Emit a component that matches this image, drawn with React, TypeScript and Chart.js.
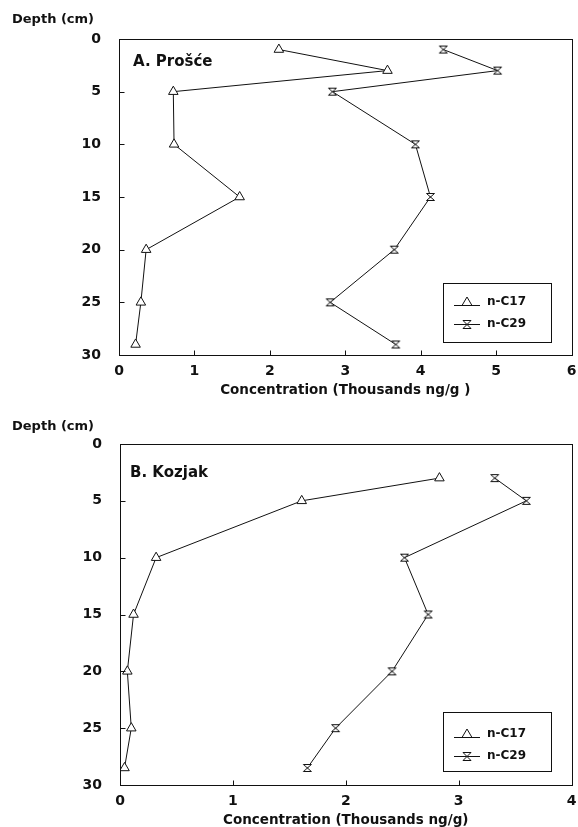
import React, { useEffect, useRef } from "react";
import { Chart, registerables } from "chart.js";

Chart.register(...registerables);

// ---------------- data ----------------
const seriesNames = ["n-C17", "n-C29"];
const depthTicks = [0, 5, 10, 15, 20, 25, 30];
const concTicksA = [0, 1, 2, 3, 4, 5, 6];
const concTicksB = [0, 1, 2, 3, 4];

// Panel A (Prošće): depth (cm) and concentration (thousands ng/g)
const depthA = [1, 3, 5, 10, 15, 20, 25, 29];
const c17A = [2.12, 3.56, 0.72, 0.73, 1.6, 0.36, 0.29, 0.22];
const c29A = [4.3, 5.02, 2.83, 3.93, 4.13, 3.65, 2.8, 3.67];

// Panel B (Kozjak)
const depthB = [3, 5, 10, 15, 20, 25, 28.5];
const c17B = [2.83, 1.61, 0.32, 0.12, 0.065, 0.1, 0.04];
const c29B = [3.32, 3.6, 2.52, 2.73, 2.41, 1.91, 1.66];

const panelTitles = ["A. Prošće", "B. Kozjak"];
const xTitles = ["Concentration (Thousands ng/g )", "Concentration (Thousands ng/g)"];
const yTitle = "Depth (cm)";

// ---------------- style ----------------
const INK = "#111";
const FAMILY = "'DejaVu Sans', 'Liberation Sans', sans-serif";

function drawHourglass(g: CanvasRenderingContext2D, cx: number, cy: number, hw: number, hh: number) {
  g.beginPath();
  g.moveTo(cx - hw, cy - hh);
  g.lineTo(cx + hw, cy - hh);
  g.lineTo(cx - hw, cy + hh);
  g.lineTo(cx + hw, cy + hh);
  g.closePath();
  g.fillStyle = "#fff";
  g.fill();
  g.strokeStyle = INK;
  g.lineWidth = 1;
  g.stroke();
}

function makeHourglassPoint(): HTMLCanvasElement {
  const c = document.createElement("canvas");
  c.width = 11;
  c.height = 10;
  const g = c.getContext("2d")!;
  drawHourglass(g, 5.5, 5, 4, 3.5);
  return c;
}

function makeSwatch(kind: "tri" | "hour"): HTMLCanvasElement {
  const c = document.createElement("canvas");
  c.width = 26;
  c.height = 14;
  const g = c.getContext("2d")!;
  g.strokeStyle = INK;
  g.lineWidth = 1;
  const ly = kind === "tri" ? 10.5 : 7.5;
  g.beginPath();
  g.moveTo(0, ly);
  g.lineTo(26, ly);
  g.stroke();
  if (kind === "tri") {
    g.beginPath();
    g.moveTo(13, 2);
    g.lineTo(18, 10.5);
    g.lineTo(8, 10.5);
    g.closePath();
    g.fillStyle = "#fff";
    g.fill();
    g.stroke();
  } else {
    drawHourglass(g, 13, 7.5, 4, 4);
  }
  return c;
}

type Spec = {
  top: number;
  height: number;
  area: { left: number; right: number; top: number; bottom: number };
  xTicks: number[];
  depth: number[];
  c17: number[];
  c29: number[];
  title: string;
  xTitle: string;
  depthY: number;
  panelX: number;
  panelY: number;
  legendBox: { x: number; y: number; w: number; h: number };
  legendTop: number;
};

const panelA: Spec = {
  top: 0,
  height: 410,
  area: { left: 119, right: 575, top: 39, bottom: 355 },
  xTicks: concTicksA,
  depth: depthA,
  c17: c17A,
  c29: c29A,
  title: panelTitles[0],
  xTitle: xTitles[0],
  depthY: 20,
  panelX: 133,
  panelY: 62,
  legendBox: { x: 443, y: 283, w: 108, h: 59 },
  legendTop: 286,
};

const panelB: Spec = {
  top: 410,
  height: 430,
  area: { left: 120, right: 575, top: 34, bottom: 375 },
  xTicks: concTicksB,
  depth: depthB,
  c17: c17B,
  c29: c29B,
  title: panelTitles[1],
  xTitle: xTitles[1],
  depthY: 17,
  panelX: 130,
  panelY: 63,
  legendBox: { x: 443, y: 302, w: 108, h: 59 },
  legendTop: 308,
};

const decorPlugin = {
  id: "decor",
  beforeDraw(chart: any, _args: any, opts: any) {
    const lg = chart.legend;
    if (lg) {
      lg.left = opts.legendLeft;
      lg.top = opts.legendTop;
      lg.right = lg.left + lg.width;
      lg.bottom = lg.top + 100;
    }
  },
  afterDraw(chart: any, _args: any, opts: any) {
    const ctx: CanvasRenderingContext2D = chart.ctx;
    const a = chart.chartArea;
    ctx.save();
    ctx.strokeStyle = INK;
    ctx.lineWidth = 1;
    // plot frame
    const L = Math.round(a.left) + 0.5;
    const T = Math.round(a.top) + 0.5;
    const R = Math.round(a.right) + 0.5;
    const B = Math.round(a.bottom) + 0.5;
    ctx.strokeRect(L, T, R - L, B - T);
    // inward tick marks
    const xs = chart.scales.x;
    const ys = chart.scales.y;
    ctx.beginPath();
    xs.ticks.forEach((t: any) => {
      if (t.value === xs.min || t.value === xs.max) return;
      const px = Math.round(xs.getPixelForValue(t.value)) + 0.5;
      ctx.moveTo(px, B);
      ctx.lineTo(px, B - 5);
    });
    ys.ticks.forEach((t: any) => {
      if (t.value === ys.min || t.value === ys.max) return;
      const py = Math.round(ys.getPixelForValue(t.value)) + 0.5;
      ctx.moveTo(L, py);
      ctx.lineTo(L + 5, py);
    });
    ctx.stroke();
    // legend frame
    const lb = opts.legendBox;
    ctx.strokeRect(lb.x + 0.5, lb.y + 0.5, lb.w, lb.h);
    // texts
    ctx.fillStyle = INK;
    ctx.textBaseline = "middle";
    ctx.textAlign = "left";
    ctx.font = `bold 13px ${FAMILY}`;
    ctx.fillText(opts.yTitle, 12, opts.depthY);
    ctx.font = `bold 15px ${FAMILY}`;
    ctx.fillText(opts.panelTitle, opts.panelX, opts.panelY);
    ctx.restore();
  },
};

function buildConfig(spec: Spec): any {
  const hourglass = makeHourglassPoint();
  const swatches = [makeSwatch("tri"), makeSwatch("hour")];
  const tickFont = { family: FAMILY, size: 14, weight: "bold" as const };
  return {
    type: "scatter",
    data: {
      datasets: [
        {
          label: seriesNames[0],
          data: spec.c17.map((x, i) => ({ x, y: spec.depth[i] })),
          showLine: true,
          borderColor: INK,
          borderWidth: 1,
          pointStyle: "triangle",
          pointRadius: 5.5,
          pointBackgroundColor: "#fff",
          pointBorderColor: INK,
          pointBorderWidth: 1,
        },
        {
          label: seriesNames[1],
          data: spec.c29.map((x, i) => ({ x, y: spec.depth[i] })),
          showLine: true,
          borderColor: INK,
          borderWidth: 1,
          pointStyle: hourglass,
          pointRadius: 5,
          pointBackgroundColor: "#fff",
          pointBorderColor: INK,
          pointBorderWidth: 1,
        },
      ],
    },
    options: {
      responsive: false,
      animation: false,
      events: [],
      layout: {
        padding: { top: spec.area.top, right: 578 - spec.area.right, left: 0, bottom: 0 },
      },
      scales: {
        x: {
          type: "linear",
          min: spec.xTicks[0],
          max: spec.xTicks[spec.xTicks.length - 1],
          afterBuildTicks: (s: any) => {
            s.ticks = spec.xTicks.map((v) => ({ value: v }));
          },
          afterFit: (s: any) => {
            s.height = spec.height - spec.area.bottom;
            s.paddingLeft = 0;
            s.paddingRight = 0;
          },
          grid: { display: false, drawTicks: false },
          border: { display: false },
          ticks: { color: INK, font: tickFont, padding: 7.5, maxRotation: 0, autoSkip: false },
          title: {
            display: true,
            text: spec.xTitle,
            color: INK,
            font: { family: FAMILY, size: 13.5, weight: "bold" },
            padding: { top: 0, bottom: 11 },
          },
        },
        y: {
          type: "linear",
          reverse: true,
          min: depthTicks[0],
          max: depthTicks[depthTicks.length - 1],
          afterBuildTicks: (s: any) => {
            s.ticks = depthTicks.map((v) => ({ value: v }));
          },
          afterFit: (s: any) => {
            s.width = spec.area.left;
            s.paddingTop = 0;
            s.paddingBottom = 0;
          },
          grid: { display: false, drawTicks: false },
          border: { display: false },
          ticks: { color: INK, font: tickFont, padding: 18, autoSkip: false },
        },
      },
      plugins: {
        tooltip: { enabled: false },
        legend: {
          display: true,
          position: "chartArea",
          align: "start",
          labels: {
            usePointStyle: true,
            pointStyleWidth: 28,
            boxHeight: 12,
            padding: 10,
            color: INK,
            font: { family: FAMILY, size: 12, weight: "bold" },
            generateLabels: (chart: any) =>
              chart.data.datasets.map((ds: any, i: number) => ({
                text: ds.label,
                pointStyle: swatches[i],
                fillStyle: "#fff",
                strokeStyle: INK,
                fontColor: INK,
                lineWidth: 1,
                hidden: false,
                datasetIndex: i,
              })),
          },
        },
        decor: {
          legendLeft: spec.legendBox.x,
          legendTop: spec.legendTop,
          legendBox: spec.legendBox,
          yTitle: yTitle,
          depthY: spec.depthY,
          panelTitle: spec.title,
          panelX: spec.panelX,
          panelY: spec.panelY,
        },
      },
    },
    plugins: [decorPlugin],
  };
}

function Panel({ spec }: { spec: Spec }) {
  const ref = useRef<HTMLCanvasElement>(null);
  useEffect(() => {
    const chart = new Chart(ref.current as HTMLCanvasElement, buildConfig(spec));
    return () => chart.destroy();
  }, [spec]);
  return (
    <canvas
      ref={ref}
      width={578}
      height={spec.height}
      style={{ position: "absolute", left: 0, top: spec.top, width: 578, height: spec.height, display: "block" }}
    />
  );
}

export default function App() {
  return (
    <div
      style={{
        position: "absolute",
        left: 0,
        top: 0,
        width: 578,
        height: 827,
        overflow: "hidden",
        background: "#fff",
      }}
    >
      <Panel spec={panelA} />
      <Panel spec={panelB} />
    </div>
  );
}
